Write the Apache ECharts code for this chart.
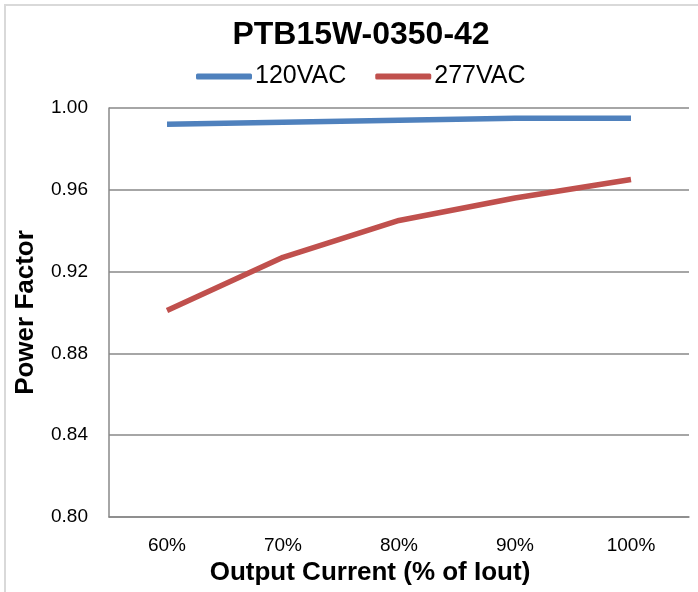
<!DOCTYPE html>
<html><head><meta charset="utf-8">
<script src="https://cdn.jsdelivr.net/npm/echarts@6/dist/echarts.min.js"></script>
<style>
html,body{margin:0;padding:0;background:#fff;}
#frame{position:absolute;left:4px;top:4px;width:700px;height:600px;border:2px solid #d9d9d9;box-sizing:border-box;}
#c{position:absolute;left:0;top:0;width:698px;height:592px;}
</style></head>
<body><div id="frame"></div><div id="c"></div>
<script>
const categories = ['60%', '70%', '80%', '90%', '100%'];
const seriesNames = ['120VAC', '277VAC'];
const pf120 = [0.992, 0.993, 0.994, 0.995, 0.995];
const pf277 = [0.901, 0.927, 0.945, 0.956, 0.965];
const yTicks = [0.80, 0.84, 0.88, 0.92, 0.96, 1.00];

const font = 'Liberation Sans, Arial, Helvetica, sans-serif';
const chart = echarts.init(document.getElementById('c'), null, {renderer: 'canvas'});
chart.setOption({
  animation: false,
  title: {
    text: 'PTB15W-0350-42', left: 356, top: 14, textAlign: 'center',
    textStyle: {fontFamily: font, fontSize: 32, fontWeight: 'bold', color: '#000'}
  },
  legend: {
    top: 59, left: 191, itemWidth: 56, itemHeight: 6, itemGap: 29,
    icon: 'roundRect',
    textStyle: {fontFamily: font, fontSize: 25, color: '#000', padding: [0, 0, 0, -2]},
    data: seriesNames
  },
  grid: {left: 109, right: 9, top: 108, bottom: 75, containLabel: false},
  xAxis: {
    type: 'category', data: categories, boundaryGap: true,
    name: 'Output Current (% of Iout)', nameLocation: 'middle', nameGap: 42,
    nameTextStyle: {fontFamily: font, fontSize: 26, fontWeight: 'bold', color: '#000', padding: [0, 58, 0, 0]},
    axisLine: {lineStyle: {color: '#888', width: 1.5}},
    axisTick: {show: false},
    axisLabel: {fontFamily: font, fontSize: 19, color: '#000', margin: 19}
  },
  yAxis: {
    type: 'value', min: 0.80, max: 1.00, interval: 0.04,
    name: 'Power Factor', nameLocation: 'middle', nameGap: 70,
    nameTextStyle: {fontFamily: font, fontSize: 26, fontWeight: 'bold', color: '#000'},
    axisLine: {show: true, lineStyle: {color: '#888', width: 1.5}},
    axisTick: {show: false},
    splitLine: {lineStyle: {color: '#888', width: 1.5}},
    axisLabel: {fontFamily: font, fontSize: 19, color: '#000', margin: 21,
      formatter: v => yTicks.find(t => Math.abs(t - v) < 1e-6)?.toFixed(2) ?? v.toFixed(2)}
  },
  series: [
    {name: seriesNames[0], type: 'line', data: pf120, symbol: 'none',
     lineStyle: {color: '#4F81BD', width: 5.5}, itemStyle: {color: '#4F81BD'}},
    {name: seriesNames[1], type: 'line', data: pf277, symbol: 'none',
     lineStyle: {color: '#C0504D', width: 5.5}, itemStyle: {color: '#C0504D'}}
  ]
});
</script></body></html>
